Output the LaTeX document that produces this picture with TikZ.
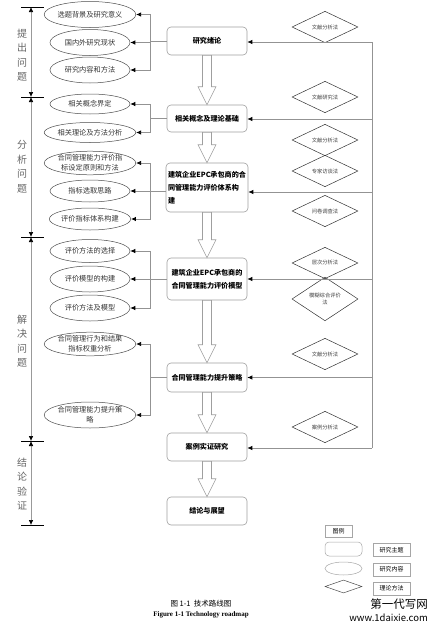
\documentclass[tikz,border=0pt]{standalone}
\usepackage{fontspec}
\setmainfont{Liberation Serif}
\newfontfamily\cjk{Noto Sans CJK SC}
\usetikzlibrary{shapes.geometric,arrows.meta,calc}
\begin{document}
\begin{tikzpicture}[x=1pt,y=-1pt,
  topic/.style={draw=gray!75, line width=0.6pt, rounded corners=4pt, minimum width=80pt, minimum height=28pt, inner sep=2pt, font=\cjk\bfseries\fontsize{7.1}{13}\selectfont, align=center},
  content/.style={ellipse, draw=black!70, line width=0.5pt, minimum width=80pt, minimum height=24pt, inner sep=0pt, font=\cjk\fontsize{7.2}{10}\selectfont, align=center, text=black!80},
  method/.style={diamond, draw=black!80, line width=0.5pt, minimum width=66pt, minimum height=28pt, inner sep=0pt, font=\cjk\fontsize{5.3}{7}\selectfont, align=center, text=black!75},
  conn/.style={draw=gray!85, line width=0.8pt},
  arr/.style={conn, -{Latex[length=5pt,width=4.5pt,black]}},
  stagearr/.style={draw=gray!80, line width=0.6pt, {Latex[length=5pt,width=4.5pt,black]}-{Latex[length=5pt,width=4.5pt,black]}},
  tick/.style={draw=black, line width=0.7pt},
  stagelabel/.style={font=\cjk\fontsize{10}{14.5}\selectfont, text=black!60, align=center},
  hollow/.style={draw=gray!75, line width=0.6pt, fill=white},
  lgbox/.style={draw=gray!70, line width=0.5pt, minimum width=37pt, minimum height=13pt, inner sep=0pt, font=\cjk\fontsize{6}{7}\selectfont},
]
\useasboundingbox (0,0) rectangle (440,632);

% ---------- topic boxes ----------
\node[topic] (b1) at (207,41) {研究绪论};
\node[topic, minimum height=27pt] (b2) at (207,118.5) {相关概念及理论基础};
\node[topic, minimum height=49pt, align=left] (b3) at (207,187.5) {建筑企业EPC承包商的合\\同管理能力评价体系构\\建};
\node[topic, minimum height=42pt] (b4) at (207,279) {建筑企业EPC承包商的\\合同管理能力评价模型};
\node[topic, minimum height=29pt] (b5) at (207,377.5) {合同管理能力提升策略};
\node[topic] (b6) at (207,447) {案例实证研究};
\node[topic] (b7) at (207,511) {结论与展望};

% ---------- hollow arrows ----------
\foreach \a/\b in {b1/b2,b2/b3,b3/b4,b4/b5,b5/b6,b6/b7}{
  \draw[hollow] ($(\a.south)+(-4.5,0)$) -- ($(\b.north)+(-4.5,-18)$) -- ($(\b.north)+(-9,-18)$) -- (\b.north) -- ($(\b.north)+(9,-18)$) -- ($(\b.north)+(4.5,-18)$) -- ($(\a.south)+(4.5,0)$) -- cycle;
}

% ---------- content ellipses ----------
\node[content, minimum height=26pt] (e1) at (90,14.5) {选题背景及研究意义};
\node[content, minimum height=26pt] (e2) at (90,42.5) {国内外研究现状};
\node[content, minimum height=26pt] (e3) at (90,70) {研究内容和方法};
\node[content, minimum height=20pt] (e4) at (90,104) {相关概念界定};
\node[content, minimum height=20pt] (e5) at (90,132.5) {相关理论及方法分析};
\node[content, minimum height=23pt] (e6) at (90,163) {合同管理能力评价指\\标设定原则和方法};
\node[content, minimum height=22pt] (e7) at (90,191) {指标选取思路};
\node[content, minimum height=22pt] (e8) at (90,219) {评价指标体系构建};
\node[content, minimum height=23pt] (e9) at (90,251) {评价方法的选择};
\node[content, minimum height=26pt] (e10) at (90,279) {评价模型的构建};
\node[content, minimum height=26pt] (e11) at (90,308) {评价方法及模型};
\node[content, minimum height=23pt] (e12) at (90,344) {合同管理行为和结果\\指标权重分析};
\node[content, minimum height=26pt] (e13) at (90,415) {合同管理能力提升策\\略};

% ---------- left junctions ----------
\coordinate (j1) at (150,41);
\coordinate (j2) at (150,118.5);
\coordinate (j3) at (150,191);
\coordinate (j4) at (150,279);
\coordinate (j5) at (150,377.5);
\draw[conn] (j1 -| b1.west) -- (j1);
\draw[conn] (j2 -| b2.west) -- (j2);
\draw[conn] (j3 -| b3.west) -- (j3);
\draw[conn] (j4 -| b4.west) -- (j4);
\draw[conn] (j5 -| b5.west) -- (j5);
\foreach \j/\e in {j1/e1,j1/e2,j1/e3,j2/e4,j2/e5,j3/e6,j3/e7,j3/e8,j4/e9,j4/e10,j4/e11,j5/e12,j5/e13}{
  \draw[arr] (\j) |- (\e.east);
}

% ---------- method diamonds ----------
\node[method] (d1) at (325,27) {文献分析法};
\node[method] (d2) at (325,97) {文献研究法};
\node[method] (d3) at (325,140) {文献分析法};
\node[method] (d4) at (325,171) {专家访谈法};
\node[method] (d5) at (325,211) {问卷调查法};
\node[method] (d6) at (325,263) {层次分析法};
\node[method] (d7) at (325,299) {模糊综合评价\\法};
\node[method] (d8) at (325,354) {文献分析法};
\node[method] (d9) at (325,427) {案例分析法};

% ---------- right bus ----------
\coordinate (r1) at (372,42);
\coordinate (r2) at (372,119);
\coordinate (r3) at (372,192);
\coordinate (r4) at (372,279);
\coordinate (r5) at (372,377.5);
\coordinate (r6) at (372,448);
\draw[conn] (r1) -- (r6);
\draw[arr] (r1) -- (r1 -| b1.east);
\draw[arr] (r2) -- (r2 -| b2.east);
\draw[arr] (r3) -- (r3 -| b3.east);
\draw[arr] (r4) -- (r4 -| b4.east);
\draw[arr] (r5) -- (r5 -| b5.east);
\draw[arr] (r6) -- (r6 -| b6.east);

% ---------- stages ----------
\coordinate (s0) at (31,7);
\coordinate (s1) at (31,97);
\coordinate (s2) at (31,237);
\coordinate (s3) at (31,441);
\coordinate (s4) at (31,525);
\foreach \s in {s0,s1,s2,s3,s4}{
  \draw[tick] ($(\s)+(-10,0)$) -- ($(\s)+(13,0)$);
}
\draw[stagearr] (s0) -- (s1);
\draw[stagearr] (s1) -- (s2);
\draw[stagearr] (s2) -- (s3);
\draw[stagearr] (s3) -- (s4);
\node[stagelabel] (l1) at (22,55) {提\\出\\问\\题};
\node[stagelabel] (l2) at (22,167) {分\\析\\问\\题};
\node[stagelabel] (l3) at (22,341) {解\\决\\问\\题};
\node[stagelabel] (l4) at (22,484) {结\\论\\验\\证};

% ---------- legend ----------
\node[lgbox, minimum width=27pt, minimum height=12pt] (lg0) at (338.5,531) {图例};
\node[lgbox, rounded corners=4pt, minimum height=14pt] (lg1) at (343.5,549) {};
\node[lgbox, ellipse] (lg2) at (343.5,568.5) {};
\node[lgbox, diamond, draw=black!70, minimum height=13pt] (lg3) at (343.5,586.5) {};
\node[lgbox] (lt1) at (391.5,550) {研究主题};
\node[lgbox] (lt2) at (391.5,569.5) {研究内容};
\node[lgbox] (lt3) at (391.5,588.5) {理论方法};

% ---------- caption ----------
\node[font=\cjk\fontsize{7.5}{9}\selectfont] (cap1) at (201,603.5) {图 1-1\ \ 技术路线图};
\node[font=\bfseries\fontsize{7}{9}\selectfont] (cap2) at (201,615) {Figure 1-1 Technology roadmap};

% ---------- watermark ----------
\node[font=\cjk\fontsize{11.5}{13}\selectfont, anchor=east, inner sep=0pt] (wm1) at (428,604.5) {第一代写网};
\node[font=\cjk\fontsize{9.5}{11}\selectfont, anchor=east, inner sep=0pt] (wm2) at (428,617.5) {www.1daixie.com};
\end{tikzpicture}
\end{document}
